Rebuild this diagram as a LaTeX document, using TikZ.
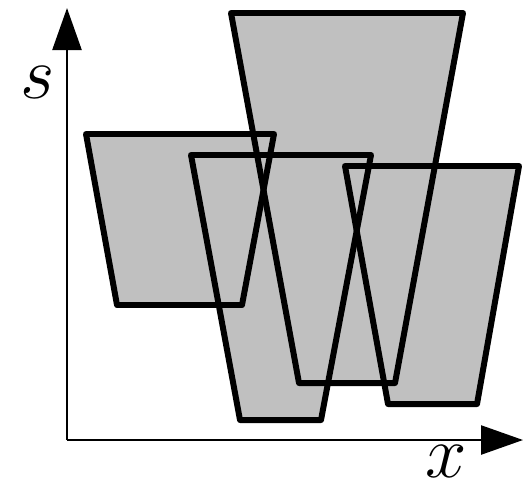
\documentclass[tikz,border=0pt]{standalone}
\usetikzlibrary{arrows.meta}
\definecolor{cFill}{HTML}{C0C0C0}

\begin{document}
\begin{tikzpicture}[>={Triangle[length=0.84cm,width=0.58cm]},
  axis/.style={line width=1.4pt},
  trap/.style={line width=3.4pt, line join=round},
  lbl/.style={font=\Huge, scale=1.7, inner sep=0pt}]
\useasboundingbox (0,0) rectangle (10.52,9.8);
% axes
\coordinate (o) at (1.34,1.0);
\coordinate (ytip) at (1.34,9.64);
\coordinate (xtip) at (10.46,1.0);
\draw[axis,->] (o) -- (ytip);
\draw[axis,->] (o) -- (xtip);
\node[lbl] (sl) at (0.76,8.16) {$s$};
\node[lbl] (xl) at (8.92,0.58) {$x$};
% fills first, outlines on top
\foreach \a/\b/\c/\d/\t/\u in {1.72/5.48/4.84/2.34/7.12/3.70, 4.62/9.26/7.90/5.98/9.54/2.14, 3.82/7.42/6.42/4.80/6.70/1.40, 6.90/10.38/9.54/7.76/6.48/1.72}
  \fill[cFill] (\a,\t) -- (\b,\t) -- (\c,\u) -- (\d,\u) -- cycle;
\foreach \a/\b/\c/\d/\t/\u in {1.72/5.48/4.84/2.34/7.12/3.70, 4.62/9.26/7.90/5.98/9.54/2.14, 3.82/7.42/6.42/4.80/6.70/1.40, 6.90/10.38/9.54/7.76/6.48/1.72}
  \draw[trap] (\a,\t) -- (\b,\t) -- (\c,\u) -- (\d,\u) -- cycle;
\end{tikzpicture}
\end{document}
